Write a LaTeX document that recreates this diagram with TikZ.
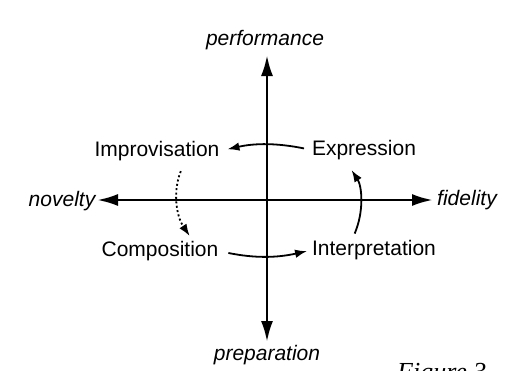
\documentclass[tikz,border=0pt]{standalone}
\usepackage{fontspec}
\setmainfont{Liberation Sans}
\newfontfamily\captionserif{Liberation Serif}
\usetikzlibrary{arrows.meta}

\begin{document}
\begin{tikzpicture}[x=1pt, y=-1pt, every node/.style={font=\fontsize{21}{25}\selectfont, inner sep=0pt},
    axislabel/.style={font=\fontsize{21}{25}\selectfont\itshape},
    axis/.style={line width=2.8pt, {Latex[length=21pt,width=12pt]}-{Latex[length=21pt,width=12pt]}},
    move/.style={line width=1.8pt, -{Latex[length=12pt,width=8.5pt]}},
    guess/.style={move, dash pattern=on 2pt off 2.4pt}]
  \useasboundingbox (0,0) rectangle (506,370);
  \clip (0,0) rectangle (506,370);
  % axes
  \coordinate (perfTip) at (267,55);
  \coordinate (prepTip) at (267,342);
  \coordinate (novTip) at (97,200);
  \coordinate (fidTip) at (433,200);
  \draw[axis] (prepTip) -- (perfTip);
  \draw[axis] (novTip) -- (fidTip);
  \node[axislabel] (performance) at (265,40) {performance};
  \node[axislabel] (preparation) at (267,355) {preparation};
  \node[axislabel] (novelty) at (62,201) {novelty};
  \node[axislabel] (fidelity) at (467,200) {fidelity};
  % quadrants
  \node (improvisation) at (157,151) {Improvisation};
  \node (expression) at (364,150) {Expression};
  \node (composition) at (160,251) {Composition};
  \node (interpretation) at (374,250) {Interpretation};
  \draw[move, shorten <=8pt, shorten >=8pt] (expression.west) to[bend right=12] (improvisation.east);
  \draw[guess, shorten <=11pt, shorten >=6pt] ([xshift=28pt]improvisation.south) to[bend right=28] ([xshift=33pt]composition.north);
  \draw[move, shorten <=10pt, shorten >=5pt] (composition.east) to[bend right=12] (interpretation.west);
  \draw[move, shorten <=7pt, shorten >=12pt] ([xshift=40pt]interpretation.north west) to[bend right=28] ([xshift=-19pt]expression.south);
  \node[font=\fontsize{26}{30}\selectfont\captionserif\itshape, anchor=base west] (figlabel) at (397,380) {Figure 3};
\end{tikzpicture}
\end{document}
